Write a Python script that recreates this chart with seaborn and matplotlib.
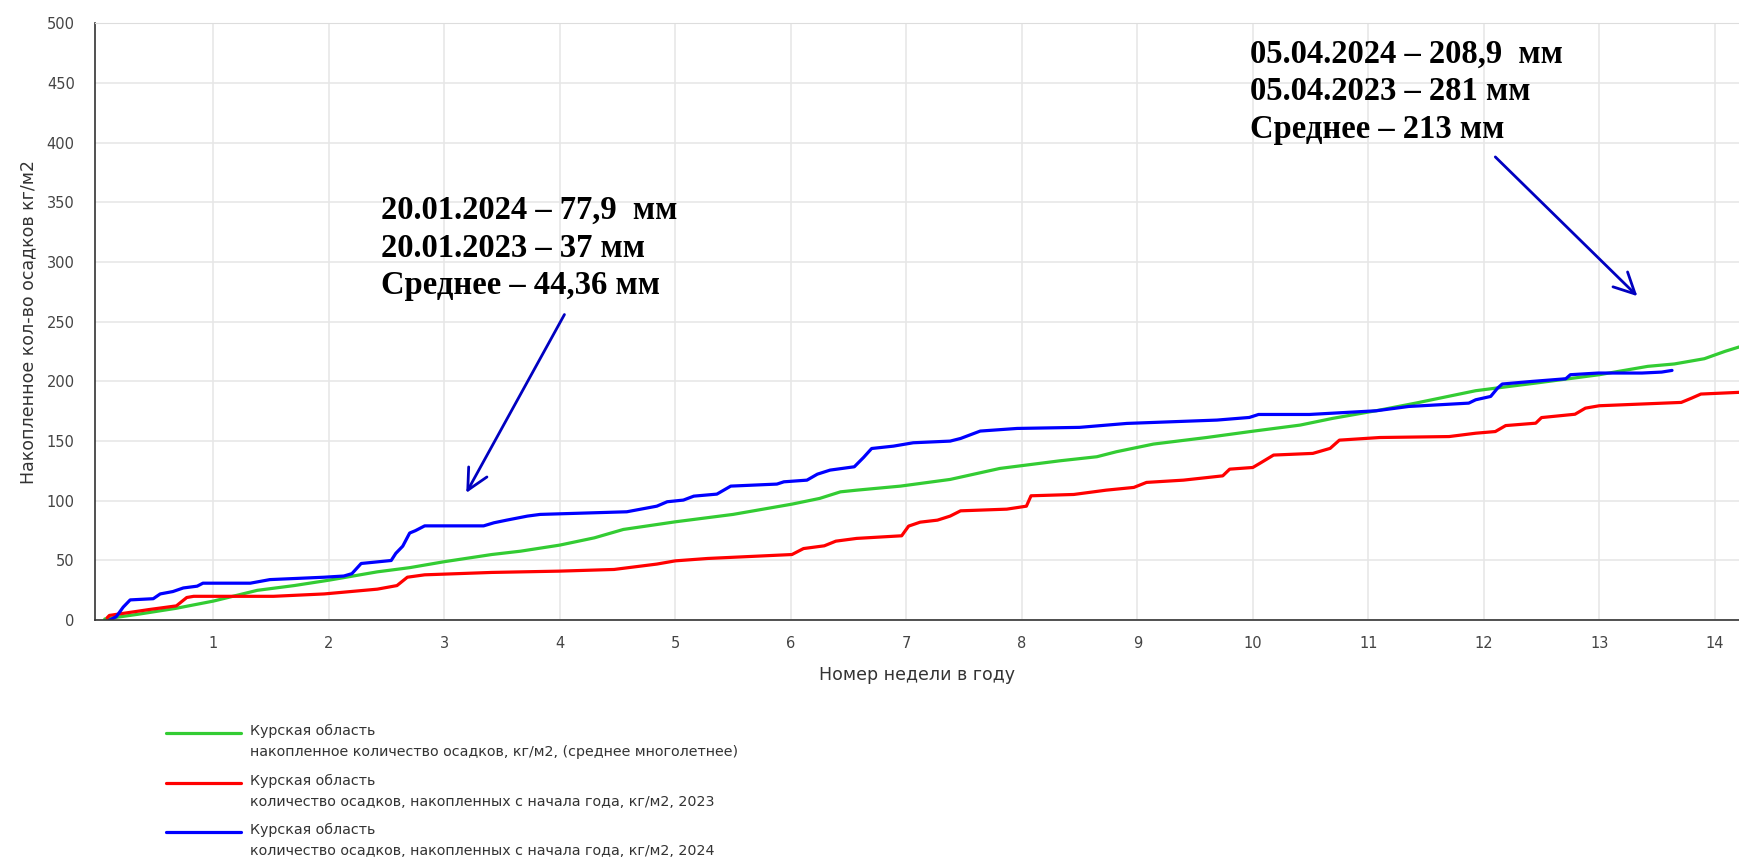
import numpy as np
import pandas as pd
import seaborn as sns
import matplotlib.pyplot as plt
from matplotlib.lines import Line2D

# Values (week number, accumulated precipitation kg/m2)
mean_weeks = [0.06, 0.35, 0.68, 1.0, 1.38, 1.7, 2.0, 2.42, 2.7, 3.0, 3.41, 3.66, 4.0, 4.3,
              4.55, 5.0, 5.5, 6.01, 6.25, 6.43, 6.57, 6.95, 7.38, 7.81, 8.33, 8.65, 8.82,
              9.14, 9.6, 10.01, 10.41, 10.69, 11.1, 11.41, 11.93, 12.45, 13.0, 13.42,
              13.65, 13.91, 14.09, 14.25]
mean_vals = [1, 5, 10, 16, 25, 29, 33.5, 40.5, 44, 49, 55, 57.8, 62.9, 69,
             76, 82.4, 88.6, 97.2, 102, 107.5, 108.9, 112.3, 117.9, 127.1, 133.5, 136.9, 141.1,
             147.5, 153, 158.4, 163.4, 169, 176, 181.8, 192.2, 198.6, 205.6, 212.6,
             214.6, 219, 225.2, 230]

y2023_weeks = [0.08, 0.1, 0.45, 0.68, 0.77, 0.83, 1.52, 1.96, 2.42, 2.59, 2.68, 2.83, 3.41,
               4.0, 4.47, 4.7, 4.84, 5.0, 5.28, 6.01, 6.11, 6.29, 6.39, 6.57, 6.96, 7.02,
               7.12, 7.27, 7.38, 7.47, 7.87, 8.04, 8.08, 8.45, 8.73, 8.97, 9.08, 9.4, 9.74,
               9.8, 10.0, 10.06, 10.18, 10.52, 10.67, 10.75, 11.1, 11.7, 11.93, 12.1, 12.19,
               12.45, 12.5, 12.79, 12.88, 13.0, 13.71, 13.8, 13.88, 14.25]
y2023_vals = [2, 4, 9, 12, 19, 20, 20, 22, 26, 29, 36, 38, 40,
              41.1, 42.5, 45.3, 47, 49.7, 51.7, 55, 60, 62.3, 66.2, 68.5, 70.7, 78.8,
              82.1, 83.8, 87.2, 91.6, 93, 95.5, 104.2, 105.3, 108.9, 111.2, 115.4, 117.3, 120.9,
              126.5, 127.9, 131.3, 138.3, 139.7, 143.9, 150.8, 153, 153.8, 156.6, 158, 163,
              165, 169.7, 172.5, 177.6, 179.6, 182.4, 186, 189.4, 191]

y2024_weeks = [0.1, 0.16, 0.22, 0.28, 0.48, 0.54, 0.65, 0.74, 0.86, 0.91, 1.32, 1.49, 1.96,
               2.13, 2.2, 2.28, 2.54, 2.58, 2.64, 2.70, 2.75, 2.83, 3.34, 3.43, 3.54, 3.72,
               3.83, 4.58, 4.84, 4.93, 5.07, 5.16, 5.36, 5.48, 5.88, 5.94, 6.14, 6.23, 6.34,
               6.55, 6.63, 6.70, 6.89, 7.06, 7.38, 7.47, 7.64, 7.96, 8.5, 8.91, 9.69, 9.97,
               10.05, 10.49, 11.07, 11.35, 11.87, 11.93, 12.06, 12.12, 12.16, 12.42, 12.71,
               12.75, 12.99, 13.37, 13.54, 13.63]
y2024_vals = [0, 3, 11, 17, 18, 22, 24, 27, 28.5, 31, 31, 34, 36,
              37, 39, 47.5, 50, 56, 62, 73, 75, 79, 79, 81.6, 83.8, 87.2,
              88.6, 90.8, 95.5, 99.2, 100.6, 103.9, 105.6, 112.3, 114, 115.9, 117.3, 122.3, 125.7,
              128.5, 136.3, 143.8, 145.8, 148.6, 150, 152.2, 158.4, 160.6, 161.5, 164.8, 167.6, 169.8,
              172.3, 172.3, 175.4, 179, 181.8, 184.6, 187.4, 194.4, 197.8, 200, 202.2,
              205.6, 207, 207, 207.8, 209.2]

series_names = [
    "Курская область\nнакопленное количество осадков, кг/м2, (среднее многолетнее)",
    "Курская область\nколичество осадков, накопленных с начала года, кг/м2, 2023",
    "Курская область\nколичество осадков, накопленных с начала года, кг/м2, 2024",
]
series_colors = ["#33cc33", "#ff0000", "#0000ff"]

week_ticks = list(range(1, 15))
value_ticks = list(range(0, 501, 50))

note_left = "20.01.2024 – 77,9  мм\n20.01.2023 – 37 мм\nСреднее – 44,36 мм"
note_right = "05.04.2024 – 208,9  мм\n05.04.2023 – 281 мм\nСреднее – 213 мм"

# long table for seaborn
df = pd.concat([
    pd.DataFrame({"week": mean_weeks, "value": mean_vals, "series": series_names[0]}),
    pd.DataFrame({"week": y2023_weeks, "value": y2023_vals, "series": series_names[1]}),
    pd.DataFrame({"week": y2024_weeks, "value": y2024_vals, "series": series_names[2]}),
])

sns.set_style("white")
plt.rcParams['font.family'] = ['DejaVu Sans']

fig = plt.figure(figsize=(17.39, 8.59), dpi=100)
ax = fig.add_axes([0.0546, 0.278, 0.9454, 0.695])

sns.lineplot(data=df, x="week", y="value", hue="series", hue_order=series_names,
             palette=series_colors, sort=False, estimator=None, linewidth=2.3,
             legend=False, ax=ax)

ax.set_xlim(-0.025, 14.21)
ax.set_ylim(0, 500)
ax.set_xticks(week_ticks)
ax.set_yticks(value_ticks)
ax.grid(True, color="#e6e6e6", linewidth=1.1)
ax.set_axisbelow(True)

for side in ["left", "bottom"]:
    ax.spines[side].set_color("#333333")
    ax.spines[side].set_linewidth(1.2)
ax.spines["top"].set_color("#dddddd")
ax.spines["right"].set_visible(False)

ax.tick_params(axis="y", direction="out", length=4.5, width=1, color="#333333",
               labelcolor="#444444", labelsize=10.5, pad=10)
ax.tick_params(axis="x", direction="out", length=4.5, width=1, color="#333333",
               labelcolor="#444444", labelsize=10.5, pad=7)

ax.set_xlabel("Номер недели в году", fontsize=12.5, color="#333333", labelpad=11)
ax.set_ylabel("Накопленное кол-во осадков кг/м2", fontsize=12.5, color="#333333", labelpad=7)

# annotations
note_style = dict(fontfamily="Liberation Serif", fontweight="bold", fontsize=23.5,
                  color="black", ha="left", va="top", linespacing=1.27)
ax.text(2.45, 356, note_left, **note_style)
ax.text(9.98, 487, note_right, **note_style)

arrow_style = dict(arrowstyle="->, head_length=0.6, head_width=0.3", color="#0000c0",
                   lw=2, mutation_scale=25, shrinkA=0, shrinkB=0)
ax.annotate("", xy=(3.19, 106.6), xytext=(4.04, 256.0), arrowprops=arrow_style)
ax.annotate("", xy=(13.33, 271.4), xytext=(12.10, 388.0), arrowprops=arrow_style)

# legend below the chart, handle on the first line of each label
handles = [Line2D([], [], color=c, linewidth=2.3) for c in series_colors]
leg_fs = 10.3
leg_ls = 1.62
leg = fig.legend(handles, series_names, loc="upper left", bbox_to_anchor=(0.0955, 0.157),
                 frameon=False, fontsize=leg_fs, handlelength=5.25, handletextpad=0.6,
                 labelspacing=1.02, borderpad=0, borderaxespad=0)
for t in leg.get_texts():
    t.set_color("#333333")
    t.set_linespacing(leg_ls)
shift = 0.5 * leg_ls * 0.76 * leg_fs
for h in leg.legend_handles:
    h.set_ydata(np.asarray(h.get_ydata()) + shift)

fig.savefig("out.png", dpi=100)
